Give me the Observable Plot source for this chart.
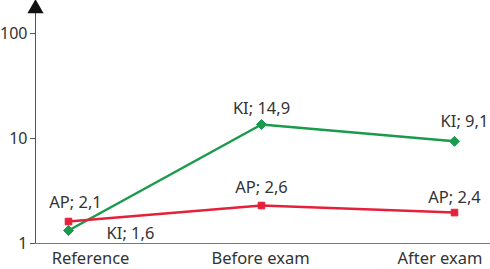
<!DOCTYPE html>
<html>
<head>
<meta charset="utf-8">
<script src="https://cdn.jsdelivr.net/npm/d3@7"></script>
<script src="https://cdn.jsdelivr.net/npm/@observablehq/plot@0.6"></script>
<style>
  html, body { margin: 0; padding: 0; background: #fff; }
  #chart svg { display: block; }
</style>
</head>
<body>
<div id="chart"></div>
<script>
const categories = ["Reference", "Before exam", "After exam"];
const kiValues = [1.33, 13.6, 9.4];
const apValues = [1.62, 2.3, 1.97];
const kiLabels = ["KI; 1,6", "KI; 14,9", "KI; 9,1"];
const apLabels = ["AP; 2,1", "AP; 2,6", "AP; 2,4"];
const yTicks = [1, 10, 100];

const ki = categories.map((c, i) => ({cat: c, v: kiValues[i], label: kiLabels[i], i}));
const ap = categories.map((c, i) => ({cat: c, v: apValues[i], label: apLabels[i], i}));

const green = "#1a9a4c";
const red = "#e4203a";
const font = "'Noto Sans', 'Open Sans', sans-serif";
const fs = 16.5;

const xAxisOpts = {tickSize: 0, tickPadding: 9, fontSize: fs, fill: "#333", label: null};

const chart = Plot.plot({
  width: 490,
  height: 269,
  marginLeft: 35,
  marginRight: 4,
  marginTop: 7,
  marginBottom: 26,
  style: {fontFamily: font, fontSize: fs + "px", color: "#333", background: "#fff"},
  x: {type: "point", domain: categories, padding: 0.1654, label: null},
  y: {type: "log", domain: [1, 177], label: null},
  marks: [
    Plot.frame({anchor: "left", stroke: "#555", strokeWidth: 1}),
    Plot.ruleY([1], {stroke: "#777", strokeWidth: 1, insetRight: -4}),
    Plot.dot([null], {frameAnchor: "top-left", symbol: "triangle", r: 6, fill: "#111", stroke: "none", dy: 1}),
    Plot.axisY({ticks: yTicks, tickFormat: d => String(d), tickSize: 5, tickPadding: 3, stroke: "#555", fontSize: 16, fill: "#333"}),
    Plot.axisX({...xAxisOpts, ticks: [categories[0]], dx: 22}),
    Plot.axisX({...xAxisOpts, ticks: [categories[1]], dx: -1}),
    Plot.axisX({...xAxisOpts, ticks: [categories[2]], dx: -14.5}),
    Plot.line(ki, {x: "cat", y: "v", stroke: green, strokeWidth: 2.5}),
    Plot.line(ap, {x: "cat", y: "v", stroke: red, strokeWidth: 2.5}),
    Plot.dot(ki, {x: "cat", y: "v", symbol: "diamond2", r: 4.5, fill: green, stroke: green, strokeWidth: 1}),
    Plot.dot(ap, {x: "cat", y: "v", symbol: "square2", r: 4.2, fill: red, stroke: red, strokeWidth: 1}),
    Plot.text(ki.filter(d => d.i === 1), {x: "cat", y: "v", text: "label", dy: -16, fontSize: fs, fill: "#333"}),
    Plot.text(ki.filter(d => d.i === 2), {x: "cat", y: "v", text: "label", dy: -20, dx: 10, fontSize: fs, fill: "#333"}),
    Plot.text(ki.filter(d => d.i === 0), {x: "cat", y: "v", text: "label", dx: 62, dy: 3, fontSize: fs, fill: "#333"}),
    Plot.text(ap.filter(d => d.i === 0), {x: "cat", y: "v", text: "label", dy: -19, dx: 7, fontSize: fs, fill: "#333"}),
    Plot.text(ap.filter(d => d.i === 1), {x: "cat", y: "v", text: "label", dy: -18, fontSize: fs, fill: "#333"}),
    Plot.text(ap.filter(d => d.i === 2), {x: "cat", y: "v", text: "label", dy: -15, fontSize: fs, fill: "#333"})
  ]
});
document.getElementById("chart").appendChild(chart);
</script>
</body>
</html>
